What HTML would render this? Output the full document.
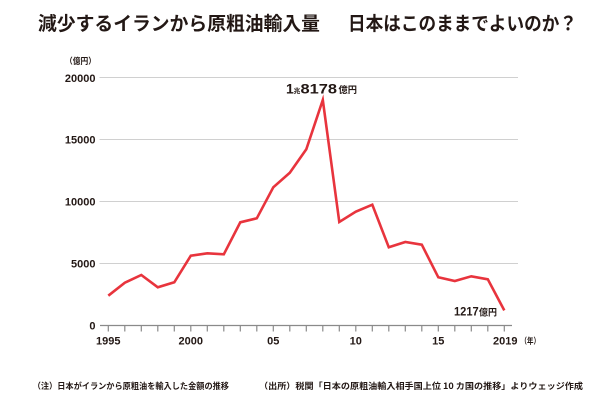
<!DOCTYPE html>
<html>
<head>
<meta charset="utf-8">
<style>
html,body{margin:0;padding:0;background:#fff;}
svg{display:block;}
text{font-family:"Liberation Sans","Noto Sans CJK JP",sans-serif;fill:#231815;}
.jp{font-family:"Noto Sans CJK JP","Liberation Sans",sans-serif;}
.ax{font-size:11px;font-weight:bold;}
</style>
</head>
<body>
<svg width="600" height="400" viewBox="0 0 600 400" xmlns="http://www.w3.org/2000/svg">
  <rect width="600" height="400" fill="#fff"/>
  <!-- Title -->
  <text class="jp" x="38" y="30" font-size="19" font-weight="bold" textLength="282" lengthAdjust="spacingAndGlyphs">減少するイランから原粗油輸入量</text>
  <text class="jp" x="348" y="30" font-size="19" font-weight="bold" textLength="229" lengthAdjust="spacingAndGlyphs">日本はこのままでよいのか？</text>

  <!-- unit -->
  <text class="jp" x="65" y="64" font-size="8.5" font-weight="bold" textLength="31" lengthAdjust="spacingAndGlyphs">（億円）</text>

  <!-- gridlines -->
  <g stroke="#d0d0d0" stroke-width="1">
    <line x1="99.5" y1="77.5" x2="518" y2="77.5"/>
    <line x1="99.5" y1="139.5" x2="518" y2="139.5"/>
    <line x1="99.5" y1="201.5" x2="518" y2="201.5"/>
    <line x1="99.5" y1="263.5" x2="518" y2="263.5"/>
  </g>
  <!-- axis -->
  <line x1="100" y1="325.5" x2="512" y2="325.5" stroke="#8a8a8a" stroke-width="1.2"/>
  <g stroke="#8a8a8a" stroke-width="1.2">
    <line x1="108.3" y1="325.5" x2="108.3" y2="331.5"/>
    <line x1="124.8" y1="325.5" x2="124.8" y2="331.5"/>
    <line x1="141.3" y1="325.5" x2="141.3" y2="331.5"/>
    <line x1="157.8" y1="325.5" x2="157.8" y2="331.5"/>
    <line x1="174.3" y1="325.5" x2="174.3" y2="331.5"/>
    <line x1="190.8" y1="325.5" x2="190.8" y2="331.5"/>
    <line x1="207.3" y1="325.5" x2="207.3" y2="331.5"/>
    <line x1="223.8" y1="325.5" x2="223.8" y2="331.5"/>
    <line x1="240.3" y1="325.5" x2="240.3" y2="331.5"/>
    <line x1="256.8" y1="325.5" x2="256.8" y2="331.5"/>
    <line x1="273.3" y1="325.5" x2="273.3" y2="331.5"/>
    <line x1="289.8" y1="325.5" x2="289.8" y2="331.5"/>
    <line x1="306.3" y1="325.5" x2="306.3" y2="331.5"/>
    <line x1="322.8" y1="325.5" x2="322.8" y2="331.5"/>
    <line x1="339.3" y1="325.5" x2="339.3" y2="331.5"/>
    <line x1="355.8" y1="325.5" x2="355.8" y2="331.5"/>
    <line x1="372.3" y1="325.5" x2="372.3" y2="331.5"/>
    <line x1="388.8" y1="325.5" x2="388.8" y2="331.5"/>
    <line x1="405.3" y1="325.5" x2="405.3" y2="331.5"/>
    <line x1="421.8" y1="325.5" x2="421.8" y2="331.5"/>
    <line x1="438.3" y1="325.5" x2="438.3" y2="331.5"/>
    <line x1="454.8" y1="325.5" x2="454.8" y2="331.5"/>
    <line x1="471.3" y1="325.5" x2="471.3" y2="331.5"/>
    <line x1="487.8" y1="325.5" x2="487.8" y2="331.5"/>
    <line x1="504.3" y1="325.5" x2="504.3" y2="331.5"/>
  </g>

  <!-- y labels -->
  <text class="ax" x="95.5" y="82" text-anchor="end">20000</text>
  <text class="ax" x="95.5" y="143.5" text-anchor="end">15000</text>
  <text class="ax" x="95.5" y="205.5" text-anchor="end">10000</text>
  <text class="ax" x="95.5" y="267.5" text-anchor="end">5000</text>
  <text class="ax" x="95.5" y="329.5" text-anchor="end">0</text>

  <!-- x labels -->
  <text class="ax" x="108.3" y="344.7" text-anchor="middle">1995</text>
  <text class="ax" x="190.8" y="344.7" text-anchor="middle">2000</text>
  <text class="ax" x="273.3" y="344.7" text-anchor="middle">05</text>
  <text class="ax" x="355.8" y="344.7" text-anchor="middle">10</text>
  <text class="ax" x="438.3" y="344.7" text-anchor="middle">15</text>
  <text class="ax" x="505.3" y="344.7" text-anchor="middle">2019</text>
  <text class="jp" x="520.5" y="344" font-size="8.5" font-weight="bold" textLength="19.5" lengthAdjust="spacingAndGlyphs">（年）</text>

  <!-- data line -->
  <polyline fill="none" stroke="#e8343d" stroke-width="2.6" stroke-linejoin="miter" stroke-miterlimit="10"
    points="108.3,295.7 124.8,282.7 141.3,275 157.8,287.3 174.3,282.3 190.8,255.7 207.3,253.3 223.8,254.3 240.3,222.3 256.8,218.3 273.3,187.3 289.8,172.7 306.3,149.3 322.8,100 339.3,222 355.8,211.7 372.3,204.7 388.8,247.3 405.3,242 421.8,244.7 438.3,277.3 454.8,281 471.3,276.3 487.8,279.3 504.3,310.4"/>

  <!-- peak label -->
  <text x="286" y="93.5" font-size="14" font-weight="bold">1</text>
  <text class="jp" x="293.8" y="93" font-size="6.5" font-weight="bold">兆</text>
  <text x="300.5" y="93.5" font-size="14" font-weight="bold" textLength="36.5" lengthAdjust="spacingAndGlyphs">8178</text>
  <text class="jp" x="338.5" y="93" font-size="9" font-weight="bold" textLength="18.5" lengthAdjust="spacingAndGlyphs">億円</text>

  <!-- end label -->
  <text x="454" y="315.7" font-size="12" font-weight="bold" textLength="24.7" lengthAdjust="spacingAndGlyphs">1217</text>
  <text class="jp" x="479" y="315.5" font-size="9" font-weight="bold" textLength="18" lengthAdjust="spacingAndGlyphs">億円</text>

  <!-- footnote -->
  <text class="jp" x="32.7" y="389" font-size="8.5" font-weight="bold" textLength="196.3" lengthAdjust="spacingAndGlyphs">（注）日本がイランから原粗油を輸入した金額の推移</text>
  <text class="jp" x="259" y="389" font-size="8.5" font-weight="bold" textLength="324" lengthAdjust="spacingAndGlyphs">（出所）税関「日本の原粗油輸入相手国上位 10 カ国の推移」よりウェッジ作成</text>
</svg>
</body>
</html>
